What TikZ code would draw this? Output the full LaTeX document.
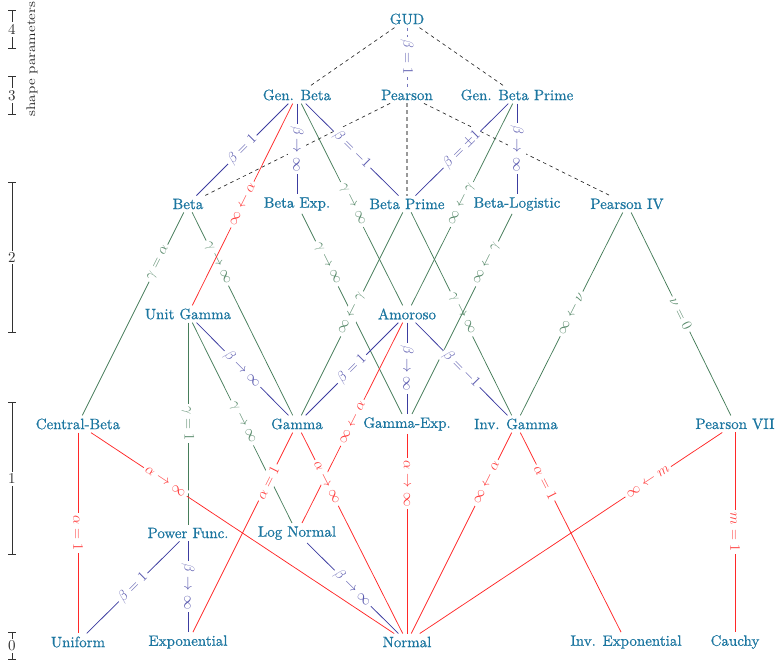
\RequirePackage{fix-cm}
\documentclass[tikz,border=0pt]{standalone}
\usepackage{amsmath}
\usepackage{fontspec}
\setmainfont{lmroman10-regular.otf}[ItalicFont=lmroman10-italic.otf,BoldFont=lmroman10-bold.otf]
\newfontfamily\nodefont{lmroman10-regular.otf}[FakeBold=0.7]
\usepackage{graphicx}
\usetikzlibrary{arrows.meta}
\definecolor{nodec}{RGB}{28,118,160}
\definecolor{bl}{RGB}{60,60,160}
\definecolor{gr}{RGB}{70,125,90}
\definecolor{rd}{RGB}{255,40,40}
\definecolor{ax}{RGB}{50,50,50}
\tikzset{
  dist/.style={text=nodec, font=\nodefont\fontsize{15}{18}\selectfont, inner sep=3pt},
  lab/.style={sloped, fill=white, inner sep=2.5pt, font=\fontsize{14.5}{17}\selectfont},
  bline/.style={draw=bl, line width=0.75pt, every node/.append style={text=bl!85}},
  gline/.style={draw=gr, line width=0.75pt, every node/.append style={text=gr!90}},
  rline/.style={draw=rd, line width=0.75pt, every node/.append style={text=rd!90}},
  kdash/.style={draw=black!85, line width=0.65pt, dash pattern=on 3.5pt off 3.5pt},
  bdash/.style={draw=bl!70, line width=0.9pt, dash pattern=on 3.5pt off 3.5pt, every node/.append style={text=bl!80}},
  gdash/.style={draw=black!40, line width=1.3pt, dash pattern=on 4pt off 3pt},
  scalebar/.style={draw=ax, line width=0.7pt, {Bar[width=8pt]}-{Bar[width=8pt]}},
  num/.style={fill=white, text=ax, inner sep=2pt, font=\fontsize{15}{18}\selectfont}
}
\begin{document}
\begin{tikzpicture}[x=1pt,y=-1pt]
\useasboundingbox (0,0) rectangle (775,669);
% scale on the left
\draw[scalebar] (12,10) -- node[num] (s4) {4} (12,49);
\draw[scalebar] (12,76) -- node[num] (s3) {3} (12,115);
\draw[scalebar] (12,182) -- node[num] (s2) {2} (12,333);
\draw[scalebar] (12,402) -- node[num] (s1) {1} (12,555);
\draw[scalebar] (12,632) -- node[num] (s0) {0} (12,660);
\node[rotate=90, text=black!85, font=\fontsize{12.5}{14}\selectfont] (sp) at (32,59) {\scalebox{1.2}[1]{shape parameters}};

% nodes
\node[dist] (GUD) at (407,19) {GUD};
\node[dist] (GenBeta) at (297,95) {Gen. Beta};
\node[dist] (Pearson) at (407,95) {Pearson};
\node[dist] (GenBetaPrime) at (517,95) {Gen. Beta Prime};
\node[dist] (Beta) at (188,204) {Beta};
\node[dist] (BetaExp) at (297,204) {Beta Exp.};
\node[dist] (BetaPrime) at (407,204) {Beta Prime};
\node[dist] (BetaLogistic) at (517,204) {Beta-Logistic};
\node[dist] (PearsonIV) at (627,204) {Pearson IV};
\node[dist] (UnitGamma) at (188,314) {Unit Gamma};
\node[dist] (Amoroso) at (407,314) {Amoroso};
\node[dist] (CentralBeta) at (78,424) {Central-Beta};
\node[dist] (Gamma) at (297,424) {Gamma};
\node[dist] (GammaExp) at (407,424) {Gamma-Exp.};
\node[dist] (InvGamma) at (516,424) {Inv. Gamma};
\node[dist] (PearsonVII) at (735,424) {Pearson VII};
\node[dist] (PowerFunc) at (188,533) {Power Func.};
\node[dist] (LogNormal) at (297,533) {Log Normal};
\node[dist] (Uniform) at (78,642) {Uniform};
\node[dist] (Exponential) at (188,642) {Exponential};
\node[dist] (Normal) at (407,642) {Normal};
\node[dist] (InvExp) at (626,642) {Inv. Exponential};
\node[dist] (Cauchy) at (735,642) {Cauchy};

% dashed
\draw[kdash] (GUD) -- (GenBeta);
\draw[kdash] (GUD) -- (GenBetaPrime);
\draw[bdash] (GUD) -- node[lab] {$\beta=1$} (Pearson);
\draw[kdash] (Pearson) -- (Beta);
\draw[gdash] (Pearson) -- (BetaPrime);
\draw[kdash] (Pearson) -- (PearsonIV);

% green
\draw[gline] (GenBeta) -- node[lab] {$\gamma\to\infty$} (Amoroso);
\draw[gline] (GenBetaPrime) -- node[lab] {$\infty\leftarrow\gamma$} (Amoroso);
\draw[gline] (Beta) -- node[lab,pos=0.25] {$\gamma=\alpha$} (CentralBeta);
\draw[gline] (Beta) -- node[lab,pos=0.25] {$\gamma\to\infty$} (Gamma);
\draw[gline] (BetaExp) -- node[lab,pos=0.25] {$\gamma\to\infty$} (GammaExp);
\draw[gline] (BetaPrime) -- node[lab] {$\infty\leftarrow\gamma$} (Gamma);
\draw[gline] (BetaPrime) -- node[lab] {$\gamma\to\infty$} (InvGamma);
\draw[gline] (BetaLogistic) -- node[lab,pos=0.25] {$\infty\leftarrow\gamma$} (GammaExp);
\draw[gline] (PearsonIV) -- node[lab] {$\infty\leftarrow\nu$} (InvGamma);
\draw[gline] (PearsonIV) -- node[lab] {$\nu=0$} (PearsonVII);
\draw[gline] (UnitGamma) -- node[lab] {$\gamma=1$} (PowerFunc);
\draw[gline] (UnitGamma) -- node[lab] {$\gamma\to\infty$} (LogNormal);

% red
\draw[rline] (GenBeta) -- node[lab] {$\infty\leftarrow\alpha$} (UnitGamma);
\draw[rline] (Amoroso) -- node[lab] {$\infty\leftarrow\alpha$} (LogNormal);
\draw[rline] (CentralBeta) -- node[lab] {$\alpha=1$} (Uniform);
\draw[rline] (CentralBeta) -- node[lab,pos=0.245] {$\alpha\to\infty$} (Normal);
\draw[rline] (Gamma) -- node[lab,pos=0.25] {$\alpha=1$} (Exponential);
\draw[rline] (Gamma) -- node[lab,pos=0.25] {$\alpha\to\infty$} (Normal);
\draw[rline] (GammaExp) -- node[lab,pos=0.25] {$\alpha\to\infty$} (Normal);
\draw[rline] (InvGamma) -- node[lab,pos=0.25] {$\infty\leftarrow\alpha$} (Normal);
\draw[rline] (InvGamma) -- node[lab,pos=0.25] {$\alpha=1$} (InvExp);
\draw[rline] (PearsonVII) -- node[lab,pos=0.245] {$\infty\leftarrow m$} (Normal);
\draw[rline] (PearsonVII) -- node[lab] {$m=1$} (Cauchy);

% blue
\draw[bline] (GenBeta) -- node[lab] {$\beta=1$} (Beta);
\draw[bline] (GenBeta) -- node[lab] {$\beta\to\infty$} (BetaExp);
\draw[bline] (GenBeta) -- node[lab] {$\beta=-1$} (BetaPrime);
\draw[bline] (GenBetaPrime) -- node[lab] {$\beta=\pm1$} (BetaPrime);
\draw[bline] (GenBetaPrime) -- node[lab] {$\beta\to\infty$} (BetaLogistic);
\draw[bline] (UnitGamma) -- node[lab] {$\beta\to\infty$} (Gamma);
\draw[bline] (Amoroso) -- node[lab] {$\beta=1$} (Gamma);
\draw[bline] (Amoroso) -- node[lab] {$\beta\to\infty$} (GammaExp);
\draw[bline] (Amoroso) -- node[lab] {$\beta=-1$} (InvGamma);
\draw[bline] (PowerFunc) -- node[lab] {$\beta=1$} (Uniform);
\draw[bline] (PowerFunc) -- node[lab] {$\beta\to\infty$} (Exponential);
\draw[bline] (LogNormal) -- node[lab] {$\beta\to\infty$} (Normal);
\end{tikzpicture}
\end{document}
